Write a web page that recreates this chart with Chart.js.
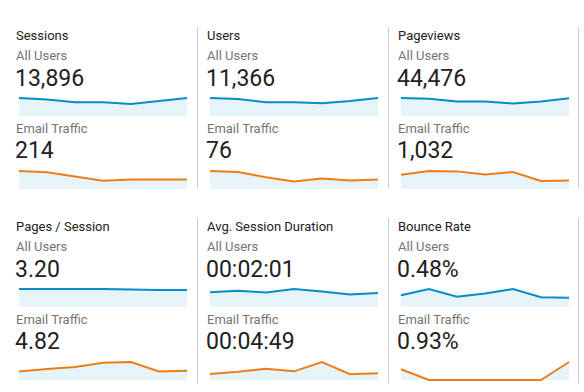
<!DOCTYPE html>
<html>
<head>
<meta charset="utf-8">
<script src="https://cdn.jsdelivr.net/npm/chart.js@4/dist/chart.umd.min.js"></script>
<style>
  html, body { margin: 0; padding: 0; background: #fff; }
  body { width: 584px; height: 392px; position: relative; overflow: hidden; font-family: Roboto, "Noto Sans", Arial, sans-serif; }
  .t { position: absolute; white-space: nowrap; }
  .title { font-size: 13px; line-height: 13px; color: #212121; }
  .seg { font-size: 13px; line-height: 13px; color: #757575; }
  .big { font-size: 23px; line-height: 23px; color: #212121; }
  .div { position: absolute; width: 1px; background: #cccccc; }
  canvas { position: absolute; }
</style>
</head>
<body>
<script>
// ---- data ----
const days = ['Day 1', 'Day 2', 'Day 3', 'Day 4', 'Day 5', 'Day 6', 'Day 7'];
const metrics = ['Sessions', 'Users', 'Pageviews', 'Pages / Session', 'Avg. Session Duration', 'Bounce Rate'];
const segments = ['All Users', 'Email Traffic'];
const allUsersTotals = ['13,896', '11,366', '44,476', '3.20', '00:02:01', '0.48%'];
const emailTotals = ['214', '76', '1,032', '4.82', '00:04:49', '0.93%'];

const sessionsAll = [2332, 2145, 1796, 1796, 1562, 1936, 2332];
const sessionsEmail = [46, 43, 32, 21, 24, 24, 24];
const usersAll = [1888, 1775, 1454, 1454, 1340, 1567, 1888];
const usersEmail = [17, 16, 11, 7, 10, 8, 9];
const pageviewsAll = [7337, 7044, 5943, 5943, 5063, 5943, 7190];
const pageviewsEmail = [150, 190, 186, 152, 179, 84, 91];
const pagesPerSessionAll = [3.28, 3.28, 3.30, 3.30, 3.22, 3.10, 3.10];
const pagesPerSessionEmail = [3.4, 4.3, 5.1, 6.8, 7.1, 3.4, 3.6];
const durationAll = [119, 131, 116, 145, 125, 100, 113];      // seconds
const durationEmail = [191, 259, 348, 270, 562, 180, 214];    // seconds
const bounceAll = [0.44, 0.67, 0.38, 0.50, 0.67, 0.36, 0.34];
const bounceEmail = [2.44, 0, 0, 0, 0, 0, 4.07];

const allSeries = [sessionsAll, usersAll, pageviewsAll, pagesPerSessionAll, durationAll, bounceAll];
const emailSeries = [sessionsEmail, usersEmail, pageviewsEmail, pagesPerSessionEmail, durationEmail, bounceEmail];

// ---- layout ----
const colX = [16, 207, 398];
const rowY = [0, 191];
const dividers = [197, 388, 578];

function addText(cls, txt, x, y) {
  const d = document.createElement('div');
  d.className = 't ' + cls;
  d.textContent = txt;
  d.style.left = x + 'px';
  d.style.top = y + 'px';
  document.body.appendChild(d);
}

function spark(values, color, x, yTop) {
  const c = document.createElement('canvas');
  const pad = 3;
  const w = 168, h = 18;
  c.width = w + 2 * pad; c.height = h + 2 * pad;
  c.style.width = (w + 2 * pad) + 'px'; c.style.height = (h + 2 * pad) + 'px';
  c.style.left = (x - pad) + 'px';
  c.style.top = (yTop - pad) + 'px';
  document.body.appendChild(c);
  new Chart(c, {
    type: 'line',
    data: {
      labels: days,
      datasets: [{
        data: values,
        borderColor: color,
        borderWidth: 2,
        backgroundColor: 'rgba(5,141,199,0.1)',
        fill: 'origin',
        tension: 0,
        pointRadius: 0,
        clip: 4
      }]
    },
    options: {
      responsive: false,
      animation: false,
      devicePixelRatio: 1,
      layout: { padding: pad },
      plugins: { legend: { display: false }, tooltip: { enabled: false } },
      scales: {
        x: { display: false, offset: false },
        y: { display: false, min: 0, max: Math.max(...values) }
      }
    }
  });
}

for (let r = 0; r < 2; r++) {
  for (let col = 0; col < 3; col++) {
    const i = r * 3 + col;
    const x = colX[col], oy = rowY[r];
    addText('title', metrics[i], x, 28.5 + oy);
    addText('seg', segments[0], x, 48.5 + oy);
    addText('big', allUsersTotals[i], x - 1, 66.5 + oy);
    spark(allSeries[i], '#058dc7', x + 2.5, 98 + oy);
    addText('seg', segments[1], x, 121.5 + oy);
    addText('big', emailTotals[i], x - 1, 139 + oy);
    spark(emailSeries[i], '#ed7e17', x + 2.5, 171 + oy);
  }
  for (const dx of dividers) {
    const d = document.createElement('div');
    d.className = 'div';
    d.style.left = dx + 'px';
    d.style.top = (27 + rowY[r]) + 'px';
    d.style.height = (r === 0 ? 161 : 165) + 'px';
    document.body.appendChild(d);
  }
}
</script>
</body>
</html>
